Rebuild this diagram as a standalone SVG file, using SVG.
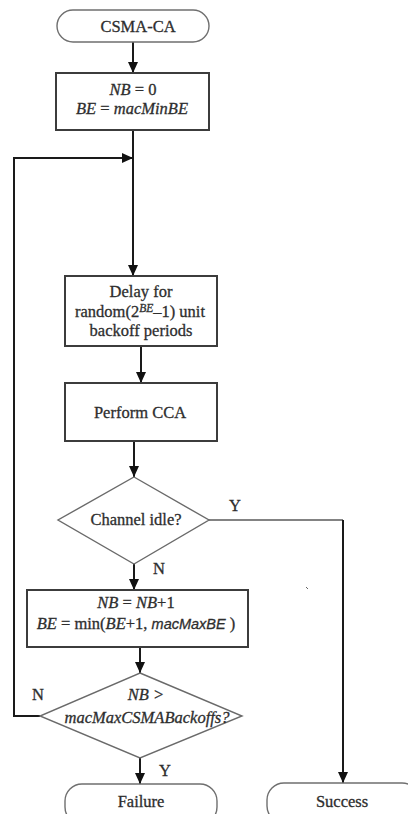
<svg xmlns="http://www.w3.org/2000/svg" width="408" height="814" viewBox="0 0 408 814">
  <defs>
    <marker id="arrow" viewBox="0 0 11 10" refX="11" refY="5" markerWidth="11" markerHeight="10" markerUnits="userSpaceOnUse" orient="auto">
      <path d="M0,0 L11,5 L0,10 Z" fill="#111"/>
    </marker>
    <style>
      .term { fill: #fff; stroke: #6f6f6f; stroke-width: 1.4; }
      .box { fill: #fff; stroke: #3c3c3c; stroke-width: 2; }
      .dec { fill: #fff; stroke: #6a6a6a; stroke-width: 1.4; }
      .link { fill: none; stroke: #1a1a1a; stroke-width: 2; }
      .link-thin { fill: none; stroke: #5a5a5a; stroke-width: 1.6; }
      text { font-size: 16.5px; fill: #2e2e2e; stroke: #2e2e2e; stroke-width: 0.3; text-anchor: middle; }
      .it { font-style: italic; }
      .sans-it { font-family: 'Liberation Sans', Arial, sans-serif; font-style: italic; font-size: 14.5px; }
      .sup { font-size: 11.5px; font-style: italic; }
    </style>
  </defs>

  <g font-family="Liberation Serif, Times New Roman, serif">
  <!-- connectors -->
  <g id="connectors">
    <path class="link" d="M133,42 V73" marker-end="url(#arrow)"/>
    <path class="link" d="M133,130 V276" marker-end="url(#arrow)"/>
    <path class="link" d="M141,346 V383" marker-end="url(#arrow)"/>
    <path class="link" d="M134,441 V477" marker-end="url(#arrow)"/>
    <path class="link" d="M134,564 V590" marker-end="url(#arrow)"/>
    <path class="link" d="M140,647 V673" marker-end="url(#arrow)"/>
    <path class="link" d="M140,758 V784" marker-end="url(#arrow)"/>
    <!-- retry loop back to the backoff step -->
    <path class="link" d="M40,716 H14 V158 H133" marker-end="url(#arrow)"/>
    <!-- channel idle: go to success -->
    <path class="link-thin" d="M209,520 H343"/>
    <path class="link" d="M343,520 V783" marker-end="url(#arrow)"/>
    <text x="235" y="511">Y</text>
    <text x="159" y="574">N</text>
    <text x="38" y="700">N</text>
    <text x="165" y="776">Y</text>
  </g>

  <g id="start">
    <rect class="term" x="57" y="10" width="152" height="32" rx="16" ry="16"/>
    <text x="138" y="32">CSMA-CA</text>
  </g>

  <g id="init">
    <rect class="box" x="56" y="73" width="153" height="57"/>
    <text x="133" y="95"><tspan class="it">NB</tspan> = 0</text>
    <text x="132" y="114"><tspan class="it">BE</tspan> = <tspan class="it">macMinBE</tspan></text>
  </g>

  <g id="delay">
    <rect class="box" x="65" y="276" width="152" height="70"/>
    <text x="141" y="297">Delay for</text>
    <text x="140" y="317">random(2<tspan class="sup" dy="-5">BE</tspan><tspan dy="5">–1) unit</tspan></text>
    <text x="141" y="336">backoff periods</text>
  </g>

  <g id="cca">
    <rect class="box" x="65" y="383" width="152" height="58"/>
    <text x="140" y="418">Perform CCA</text>
  </g>

  <g id="idle-check">
    <polygon class="dec" points="134,477 209,520 134,564 58,520"/>
    <text x="136" y="525">Channel idle?</text>
  </g>

  <g id="increment">
    <rect class="box" x="27" y="590" width="221" height="57"/>
    <text x="136" y="608"><tspan class="it">NB</tspan> = <tspan class="it">NB</tspan>+1</text>
    <text x="136" y="629"><tspan class="it">BE</tspan> = min(<tspan class="it">BE</tspan>+1, <tspan class="sans-it">macMaxBE</tspan> )</text>
  </g>

  <g id="limit-check">
    <polygon class="dec" points="140,673 242,716 140,758 40,716"/>
    <text class="it" x="146" y="700">NB &gt;</text>
    <text class="it" x="147" y="723">macMaxCSMABackoffs?</text>
  </g>

  <g id="failure">
    <rect class="term" x="65" y="784" width="152" height="40" rx="17" ry="17"/>
    <text x="141" y="807">Failure</text>
  </g>

  <g id="success">
    <rect class="term" x="267" y="783" width="152" height="40" rx="17" ry="17"/>
    <text x="342" y="807">Success</text>
  </g>
  </g>

  <!-- small stray tick -->
  <path d="M306,587 L308,589" stroke="#666" stroke-width="1"/>
</svg>
